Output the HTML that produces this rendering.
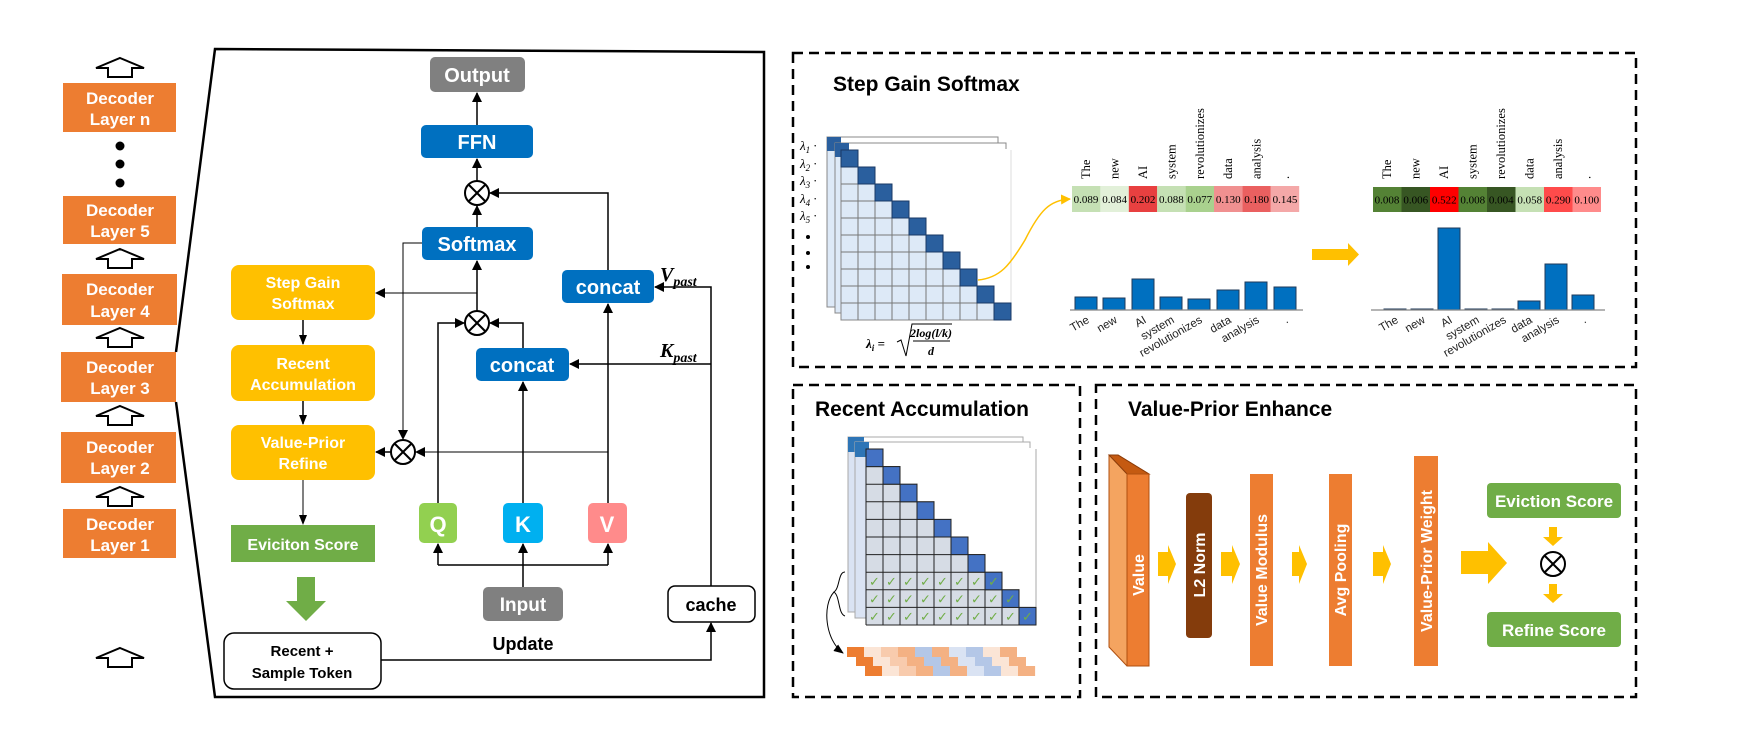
<!DOCTYPE html>
<html><head><meta charset="utf-8"><style>
html,body{margin:0;padding:0;background:#fff;}
svg{display:block;}
.b{font-family:"Liberation Sans",sans-serif;font-weight:bold;}
.s{font-family:"Liberation Serif",serif;}
</style></head><body>
<svg width="1744" height="738" viewBox="0 0 1744 738" xmlns="http://www.w3.org/2000/svg">
<defs>
<marker id="ah" markerWidth="10" markerHeight="10" refX="9" refY="5" orient="auto" markerUnits="userSpaceOnUse"><path d="M0,0 L10,5 L0,10 z" fill="#000"/></marker>
<marker id="ahs" markerWidth="10" markerHeight="8" refX="9" refY="4" orient="auto" markerUnits="userSpaceOnUse"><path d="M0,0 L10,4 L0,8 z" fill="#000"/></marker>
<marker id="aho" markerWidth="10" markerHeight="10" refX="9" refY="5" orient="auto" markerUnits="userSpaceOnUse"><path d="M0,0 L10,5 L0,10 z" fill="#ffc000"/></marker>
<g id="ua"><polygon points="0,-10 24,0 12,0 12,9 -12,9 -12,0 -24,0" fill="#fff" stroke="#000" stroke-width="2"/></g>
<g id="ot"><circle r="12" fill="#fff" stroke="#000" stroke-width="2"/><line x1="-8.5" y1="-8.5" x2="8.5" y2="8.5" stroke="#000" stroke-width="2"/><line x1="-8.5" y1="8.5" x2="8.5" y2="-8.5" stroke="#000" stroke-width="2"/></g>
</defs>

<g class="b" fill="#fff" font-size="17" text-anchor="middle">
<rect x="63" y="83" width="113" height="49" fill="#ed7d31"/><text x="120" y="104">Decoder</text><text x="120" y="125">Layer n</text>
<rect x="63" y="196" width="113" height="48" fill="#ed7d31"/><text x="120" y="216">Decoder</text><text x="120" y="237">Layer 5</text>
<rect x="62" y="274" width="115" height="51" fill="#ed7d31"/><text x="120" y="295">Decoder</text><text x="120" y="317">Layer 4</text>
<rect x="61" y="352" width="115" height="50" fill="#ed7d31"/><text x="120" y="373">Decoder</text><text x="120" y="394">Layer 3</text>
<rect x="61" y="432" width="115" height="51" fill="#ed7d31"/><text x="120" y="453">Decoder</text><text x="120" y="474">Layer 2</text>
<rect x="63" y="509" width="113" height="49" fill="#ed7d31"/><text x="120" y="530">Decoder</text><text x="120" y="551">Layer 1</text>
</g>
<circle cx="120" cy="146" r="4.5"/><circle cx="120" cy="164" r="4.5"/><circle cx="120" cy="183" r="4.5"/>
<use href="#ua" x="120" y="68"/><use href="#ua" x="120" y="259"/><use href="#ua" x="120" y="338"/><use href="#ua" x="120" y="416"/><use href="#ua" x="120" y="497"/><use href="#ua" x="120" y="658"/>

<path d="M176,352 L215,49 L764,52 L764,697 L215,697 L176,402" fill="none" stroke="#000" stroke-width="2.5"/>

<g class="b" fill="#fff" text-anchor="middle">
<rect x="430" y="57" width="95" height="35" rx="5" fill="#808080"/><text x="477" y="82" font-size="20">Output</text>
<rect x="421" y="125" width="112" height="33" rx="5" fill="#0070c0"/><text x="477" y="149" font-size="20">FFN</text>
<rect x="422" y="227" width="111" height="33" rx="5" fill="#0070c0"/><text x="477" y="251" font-size="20">Softmax</text>
<rect x="562" y="270" width="92" height="33" rx="5" fill="#0070c0"/><text x="608" y="294" font-size="20">concat</text>
<rect x="476" y="348" width="93" height="33" rx="5" fill="#0070c0"/><text x="522" y="372" font-size="20">concat</text>
<rect x="231" y="265" width="144" height="55" rx="8" fill="#ffc000"/><text x="303" y="288" font-size="16">Step Gain</text><text x="303" y="309" font-size="16">Softmax</text>
<rect x="231" y="345" width="144" height="56" rx="8" fill="#ffc000"/><text x="303" y="369" font-size="16">Recent</text><text x="303" y="390" font-size="16">Accumulation</text>
<rect x="231" y="425" width="144" height="55" rx="8" fill="#ffc000"/><text x="303" y="448" font-size="16">Value-Prior</text><text x="303" y="469" font-size="16">Refine</text>
<rect x="231" y="525" width="144" height="37" fill="#70ad47"/><text x="303" y="550" font-size="16">Eviciton Score</text>
<rect x="419" y="503" width="38" height="40" rx="5" fill="#92d050"/><text x="438" y="532" font-size="22">Q</text>
<rect x="503" y="503" width="40" height="40" rx="5" fill="#00b0f0"/><text x="523" y="532" font-size="22">K</text>
<rect x="588" y="503" width="39" height="40" rx="5" fill="#ff8b8b"/><text x="607" y="532" font-size="22">V</text>
<rect x="483" y="587" width="80" height="34" rx="5" fill="#808080"/><text x="523" y="611" font-size="19">Input</text>
</g>
<polygon points="297,577 315,577 315,601 326,601 306,621 286,601 297,601" fill="#70ad47"/>
<rect x="668" y="586" width="87" height="36" rx="7" fill="#fff" stroke="#000" stroke-width="1.5"/>
<text x="711" y="611" class="b" font-size="18" text-anchor="middle">cache</text>
<rect x="224" y="633" width="157" height="56" rx="10" fill="#fff" stroke="#000" stroke-width="1.5"/>
<text x="302" y="656" class="b" font-size="15" text-anchor="middle">Recent +</text>
<text x="302" y="678" class="b" font-size="15" text-anchor="middle">Sample Token</text>
<text x="523" y="650" class="b" font-size="18" text-anchor="middle">Update</text>

<use href="#ot" x="477" y="193"/><use href="#ot" x="477" y="323"/><use href="#ot" x="403" y="452"/>

<g stroke="#000" stroke-width="1.5" fill="none">
<line x1="477" y1="125" x2="477" y2="93" marker-end="url(#ah)"/>
<line x1="477" y1="181" x2="477" y2="159" marker-end="url(#ah)"/>
<line x1="477" y1="227" x2="477" y2="206" marker-end="url(#ah)"/>
<polyline points="608,270 608,193 490,193" marker-end="url(#ah)"/>
<line x1="477" y1="311" x2="477" y2="261" marker-end="url(#ah)"/>
<line x1="477" y1="293" x2="376" y2="293" stroke-width="1" marker-end="url(#ah)"/>
<polyline points="422,243 403,243 403,439" stroke-width="1" marker-end="url(#ah)"/>
<polyline points="438,503 438,323 464,323" marker-end="url(#ah)"/>
<polyline points="523,348 523,323 490,323" marker-end="url(#ah)"/>
<line x1="523" y1="503" x2="523" y2="382" marker-end="url(#ah)"/>
<line x1="608" y1="503" x2="608" y2="304" marker-end="url(#ah)"/>
<line x1="608" y1="452" x2="416" y2="452" stroke-width="1" marker-end="url(#ah)"/>
<line x1="391" y1="452" x2="376" y2="452" marker-end="url(#ah)"/>
<line x1="303" y1="320" x2="303" y2="344" marker-end="url(#ahs)"/>
<line x1="303" y1="401" x2="303" y2="424" marker-end="url(#ahs)"/>
<line x1="303" y1="480" x2="303" y2="524" stroke-width="1" marker-end="url(#ahs)"/>
<line x1="523" y1="587" x2="523" y2="544" marker-end="url(#ah)"/>
<polyline points="438,565 608,565"/>
<line x1="438" y1="565" x2="438" y2="544" marker-end="url(#ah)"/>
<line x1="608" y1="565" x2="608" y2="544" marker-end="url(#ah)"/>
<polyline points="381,660 711,660 711,623" marker-end="url(#ah)"/>
<polyline points="711,586 711,287 655,287" marker-end="url(#ah)"/>
<line x1="711" y1="364" x2="570" y2="364" marker-end="url(#ah)"/>
</g>
<text x="660" y="281" class="s" font-weight="bold" font-style="italic" font-size="20">V<tspan font-size="14" dy="5">past</tspan></text>
<text x="660" y="357" class="s" font-weight="bold" font-style="italic" font-size="20">K<tspan font-size="14" dy="5">past</tspan></text>

<g fill="none" stroke="#000" stroke-width="2.5" stroke-dasharray="10 6">
<rect x="793" y="53" width="843" height="314"/>
<rect x="793" y="385" width="287" height="312"/>
<rect x="1096" y="385" width="540" height="312"/>
</g>
<text x="833" y="91" class="b" font-size="21">Step Gain Softmax</text>
<text x="815" y="416" class="b" font-size="21">Recent Accumulation</text>
<text x="1128" y="416" class="b" font-size="21">Value-Prior Enhance</text>

<g stroke="#888" stroke-width="1">
<rect x="827" y="137" width="171" height="170" fill="#fff"/>
<rect x="827" y="137" width="8" height="170" fill="#dde9f7"/>
<rect x="827" y="137" width="14" height="14" fill="#2a5f9e" stroke="none"/>
<rect x="835" y="143" width="171" height="170" fill="#fff"/>
<rect x="835" y="143" width="6" height="170" fill="#dde9f7"/>
<rect x="835" y="143" width="14" height="14" fill="#2a5f9e" stroke="none"/>
<rect x="841" y="150" width="170" height="170" fill="#dde9f7"/>
</g>
<g stroke="#777" stroke-width="1">
<line x1="858" y1="150" x2="858" y2="320"/><line x1="875" y1="150" x2="875" y2="320"/><line x1="892" y1="150" x2="892" y2="320"/><line x1="909" y1="150" x2="909" y2="320"/><line x1="926" y1="150" x2="926" y2="320"/><line x1="943" y1="150" x2="943" y2="320"/><line x1="960" y1="150" x2="960" y2="320"/><line x1="977" y1="150" x2="977" y2="320"/><line x1="994" y1="150" x2="994" y2="320"/>
<line x1="841" y1="167" x2="1011" y2="167"/><line x1="841" y1="184" x2="1011" y2="184"/><line x1="841" y1="201" x2="1011" y2="201"/><line x1="841" y1="218" x2="1011" y2="218"/><line x1="841" y1="235" x2="1011" y2="235"/><line x1="841" y1="252" x2="1011" y2="252"/><line x1="841" y1="269" x2="1011" y2="269"/><line x1="841" y1="286" x2="1011" y2="286"/><line x1="841" y1="303" x2="1011" y2="303"/>
</g>
<polygon points="858,149 1012,149 1012,303 994,303 994,286 977,286 977,269 960,269 960,252 943,252 943,235 926,235 926,218 909,218 909,201 892,201 892,184 875,184 875,167 858,167" fill="#fff"/>
<line x1="1011" y1="150" x2="1011" y2="320" stroke="#ddd"/>
<g fill="#2a5f9e" stroke="#1a3a66" stroke-width="1">
<rect x="841" y="150" width="17" height="17"/><rect x="858" y="167" width="17" height="17"/><rect x="875" y="184" width="17" height="17"/><rect x="892" y="201" width="17" height="17"/><rect x="909" y="218" width="17" height="17"/><rect x="926" y="235" width="17" height="17"/><rect x="943" y="252" width="17" height="17"/><rect x="960" y="269" width="17" height="17"/><rect x="977" y="286" width="17" height="17"/><rect x="994" y="303" width="17" height="17"/>
</g>
<g class="s" font-style="italic" font-size="13">
<text x="800" y="150">λ<tspan font-size="9" dy="3">1</tspan><tspan dy="-3"> ·</tspan></text>
<text x="800" y="168">λ<tspan font-size="9" dy="3">2</tspan><tspan dy="-3"> ·</tspan></text>
<text x="800" y="185">λ<tspan font-size="9" dy="3">3</tspan><tspan dy="-3"> ·</tspan></text>
<text x="800" y="203">λ<tspan font-size="9" dy="3">4</tspan><tspan dy="-3"> ·</tspan></text>
<text x="800" y="220">λ<tspan font-size="9" dy="3">5</tspan><tspan dy="-3"> ·</tspan></text>
</g>
<circle cx="808" cy="237" r="2"/><circle cx="808" cy="253" r="2"/><circle cx="808" cy="267" r="2"/>
<text x="866" y="348" class="s" font-weight="bold" font-style="italic" font-size="13">λ<tspan font-size="9" dy="3">i</tspan><tspan dy="-3"> =</tspan></text>
<path d="M897,342 L901,340 L906,356 L912,324 L952,324" fill="none" stroke="#000" stroke-width="1"/>
<text x="931" y="337" class="s" font-weight="bold" font-style="italic" font-size="12" text-anchor="middle">2log(l/k)</text>
<line x1="913" y1="341" x2="950" y2="341" stroke="#000"/>
<text x="931" y="355" class="s" font-weight="bold" font-style="italic" font-size="12" text-anchor="middle">d</text>
<path d="M978,280 C1000,278 1010,265 1025,240 C1040,210 1050,200 1070,199" fill="none" stroke="#ffc000" stroke-width="1.5" marker-end="url(#aho)"/>

<g class="s" font-size="11" text-anchor="middle">
<rect x="1072" y="186" width="28.4" height="26" fill="#c5e0b4"/><rect x="1100.4" y="186" width="28.4" height="26" fill="#e2f0d9"/><rect x="1128.8" y="186" width="28.4" height="26" fill="#e84040"/><rect x="1157.2" y="186" width="28.4" height="26" fill="#c5e0b4"/><rect x="1185.6" y="186" width="28.4" height="26" fill="#a9d18e"/><rect x="1214" y="186" width="28.4" height="26" fill="#f09090"/><rect x="1242.4" y="186" width="28.4" height="26" fill="#ea6060"/><rect x="1270.8" y="186" width="28.4" height="26" fill="#f4a8a8"/>
<text x="1086" y="203">0.089</text><text x="1114.6" y="203">0.084</text><text x="1143" y="203">0.202</text><text x="1171.4" y="203">0.088</text><text x="1199.8" y="203">0.077</text><text x="1228.2" y="203">0.130</text><text x="1256.6" y="203">0.180</text><text x="1285" y="203">0.145</text>
<rect x="1373" y="187" width="28.5" height="25" fill="#548235"/><rect x="1401.5" y="187" width="28.5" height="25" fill="#375623"/><rect x="1430" y="187" width="28.5" height="25" fill="#ff0000"/><rect x="1458.5" y="187" width="28.5" height="25" fill="#548235"/><rect x="1487" y="187" width="28.5" height="25" fill="#375623"/><rect x="1515.5" y="187" width="28.5" height="25" fill="#c5e0b4"/><rect x="1544" y="187" width="28.5" height="25" fill="#ff4b4b"/><rect x="1572.5" y="187" width="28.5" height="25" fill="#ff8b8b"/>
<text x="1387" y="203.5">0.008</text><text x="1415.7" y="203.5">0.006</text><text x="1444.2" y="203.5">0.522</text><text x="1472.7" y="203.5">0.008</text><text x="1501.2" y="203.5">0.004</text><text x="1529.7" y="203.5">0.058</text><text x="1558.2" y="203.5">0.290</text><text x="1586.7" y="203.5">0.100</text>
</g>
<g class="s" font-size="12.5">
<text transform="translate(1090,179) rotate(-90)">The</text><text transform="translate(1118.6,179) rotate(-90)">new</text><text transform="translate(1147,179) rotate(-90)">AI</text><text transform="translate(1175.4,179) rotate(-90)">system</text><text transform="translate(1203.8,179) rotate(-90)">revolutionizes</text><text transform="translate(1232.2,179) rotate(-90)">data</text><text transform="translate(1260.6,179) rotate(-90)">analysis</text><text transform="translate(1289,179) rotate(-90)">.</text>
<text transform="translate(1391,179) rotate(-90)">The</text><text transform="translate(1419.7,179) rotate(-90)">new</text><text transform="translate(1448.2,179) rotate(-90)">AI</text><text transform="translate(1476.7,179) rotate(-90)">system</text><text transform="translate(1505.2,179) rotate(-90)">revolutionizes</text><text transform="translate(1533.7,179) rotate(-90)">data</text><text transform="translate(1562.2,179) rotate(-90)">analysis</text><text transform="translate(1590.7,179) rotate(-90)">.</text>
</g>
<g fill="#0070c0" stroke="#1f3a5a" stroke-width="1">
<rect x="1075" y="297" width="22" height="13"/><rect x="1103" y="298" width="22" height="12"/><rect x="1132" y="279" width="22" height="31"/><rect x="1160" y="297" width="22" height="13"/><rect x="1188" y="299" width="22" height="11"/><rect x="1217" y="290" width="22" height="20"/><rect x="1245" y="282" width="22" height="28"/><rect x="1274" y="287" width="22" height="23"/>
<rect x="1384" y="309" width="22" height="1"/><rect x="1411" y="309" width="22" height="1"/><rect x="1438" y="228" width="22" height="82"/><rect x="1465" y="309" width="22" height="1"/><rect x="1492" y="309" width="22" height="1"/><rect x="1518" y="301" width="22" height="9"/><rect x="1545" y="264" width="22" height="46"/><rect x="1572" y="295" width="22" height="15"/>
</g>
<line x1="1070" y1="310" x2="1303" y2="310" stroke="#888" stroke-width="1.2"/>
<line x1="1371" y1="310" x2="1605" y2="310" stroke="#888" stroke-width="1.2"/>
<g font-family="Liberation Sans,sans-serif" font-size="11.5" text-anchor="end" fill="#222">
<text transform="translate(1090,322) rotate(-30)">The</text><text transform="translate(1118,322) rotate(-30)">new</text><text transform="translate(1147,322) rotate(-30)">AI</text><text transform="translate(1175,322) rotate(-30)">system</text><text transform="translate(1203,322) rotate(-30)">revolutionizes</text><text transform="translate(1232,322) rotate(-30)">data</text><text transform="translate(1260,322) rotate(-30)">analysis</text><text transform="translate(1289,322) rotate(-30)">.</text>
<text transform="translate(1399,322) rotate(-30)">The</text><text transform="translate(1426,322) rotate(-30)">new</text><text transform="translate(1453,322) rotate(-30)">AI</text><text transform="translate(1480,322) rotate(-30)">system</text><text transform="translate(1507,322) rotate(-30)">revolutionizes</text><text transform="translate(1533,322) rotate(-30)">data</text><text transform="translate(1560,322) rotate(-30)">analysis</text><text transform="translate(1587,322) rotate(-30)">.</text>
</g>
<polygon points="1312,249 1348,249 1348,243 1359,254.5 1348,266 1348,260 1312,260" fill="#ffc000"/>

<g stroke="#aaa" stroke-width="1">
<rect x="848" y="437" width="175" height="175" fill="#fff"/>
<rect x="848" y="437" width="7" height="175" fill="#dae3f3"/>
<rect x="848" y="437" width="16" height="15" fill="#2e75b6" stroke="none"/>
<rect x="855" y="442" width="175" height="176" fill="#fff"/>
<rect x="855" y="442" width="11" height="176" fill="#dae3f3"/>
<rect x="855" y="442" width="14" height="15" fill="#2e75b6" stroke="none"/>
</g>
<rect x="866" y="449" width="170" height="176" fill="#d6dce5"/>
<g stroke="#222" stroke-width="1">
<line x1="883" y1="449" x2="883" y2="625"/><line x1="900" y1="449" x2="900" y2="625"/><line x1="917" y1="449" x2="917" y2="625"/><line x1="934" y1="449" x2="934" y2="625"/><line x1="951" y1="449" x2="951" y2="625"/><line x1="968" y1="449" x2="968" y2="625"/><line x1="985" y1="449" x2="985" y2="625"/><line x1="1002" y1="449" x2="1002" y2="625"/><line x1="1019" y1="449" x2="1019" y2="625"/>
<line x1="866" y1="466.6" x2="1036" y2="466.6"/><line x1="866" y1="484.2" x2="1036" y2="484.2"/><line x1="866" y1="501.8" x2="1036" y2="501.8"/><line x1="866" y1="519.4" x2="1036" y2="519.4"/><line x1="866" y1="537" x2="1036" y2="537"/><line x1="866" y1="554.6" x2="1036" y2="554.6"/><line x1="866" y1="572.2" x2="1036" y2="572.2"/><line x1="866" y1="589.8" x2="1036" y2="589.8"/><line x1="866" y1="607.4" x2="1036" y2="607.4"/>
<line x1="866" y1="449" x2="866" y2="625"/><line x1="866" y1="625" x2="1036" y2="625"/>
</g>
<polygon points="883.5,448 1037,448 1037,606.9 1019.5,606.9 1019.5,589.3 1002.5,589.3 1002.5,571.7 985.5,571.7 985.5,554.1 968.5,554.1 968.5,536.5 951.5,536.5 951.5,518.9 934.5,518.9 934.5,501.3 917.5,501.3 917.5,483.7 900.5,483.7 900.5,466.1 883.5,466.1" fill="#fff"/>
<line x1="1036" y1="449" x2="1036" y2="607" stroke="#aaa"/>
<g fill="#4472c4" stroke="#222" stroke-width="1">
<rect x="866" y="449" width="17" height="17.6"/><rect x="883" y="466.6" width="17" height="17.6"/><rect x="900" y="484.2" width="17" height="17.6"/><rect x="917" y="501.8" width="17" height="17.6"/><rect x="934" y="519.4" width="17" height="17.6"/><rect x="951" y="537" width="17" height="17.6"/><rect x="968" y="554.6" width="17" height="17.6"/><rect x="985" y="572.2" width="17" height="17.6"/><rect x="1002" y="589.8" width="17" height="17.6"/><rect x="1019" y="607.4" width="17" height="17.6"/>
</g>
<g fill="#70ad47" font-family="DejaVu Sans,sans-serif" font-size="13" text-anchor="middle">
<text x="874.5 891.5 908.5 925.5 942.5 959.5 976.5 993.5" y="586">✓✓✓✓✓✓✓✓</text>
<text x="874.5 891.5 908.5 925.5 942.5 959.5 976.5 993.5 1010.5" y="603.5">✓✓✓✓✓✓✓✓✓</text>
<text x="874.5 891.5 908.5 925.5 942.5 959.5 976.5 993.5 1010.5 1027.5" y="621">✓✓✓✓✓✓✓✓✓✓</text>
</g>
<path d="M845,572 C838,572 840,588 834,592 C840,596 838,614 845,616" fill="none" stroke="#000" stroke-width="1"/>
<path d="M834,592 C822,605 825,640 843,653" fill="none" stroke="#000" stroke-width="1" marker-end="url(#ahs)"/>
<g>
<rect x="847" y="647" width="17" height="10" fill="#ed7d31"/><rect x="864" y="647" width="17" height="10" fill="#fbe5d6"/><rect x="881" y="647" width="17" height="10" fill="#f8cbad"/><rect x="898" y="647" width="17" height="10" fill="#f4b183"/><rect x="915" y="647" width="17" height="10" fill="#b4c7e7"/><rect x="932" y="647" width="17" height="10" fill="#f4b183"/><rect x="949" y="647" width="17" height="10" fill="#dae3f3"/><rect x="966" y="647" width="17" height="10" fill="#b4c7e7"/><rect x="983" y="647" width="17" height="10" fill="#fbe5d6"/><rect x="1000" y="647" width="17" height="10" fill="#f4b183"/>
<rect x="856" y="657" width="17" height="9" fill="#ed7d31"/><rect x="873" y="657" width="17" height="9" fill="#fbe5d6"/><rect x="890" y="657" width="17" height="9" fill="#f8cbad"/><rect x="907" y="657" width="17" height="9" fill="#f4b183"/><rect x="924" y="657" width="17" height="9" fill="#b4c7e7"/><rect x="941" y="657" width="17" height="9" fill="#f4b183"/><rect x="958" y="657" width="17" height="9" fill="#dae3f3"/><rect x="975" y="657" width="17" height="9" fill="#b4c7e7"/><rect x="992" y="657" width="17" height="9" fill="#fbe5d6"/><rect x="1009" y="657" width="17" height="9" fill="#f4b183"/>
<rect x="865" y="666" width="17.1" height="10" fill="#ed7d31"/><rect x="882" y="666" width="17.1" height="10" fill="#fbe5d6"/><rect x="899" y="666" width="17.1" height="10" fill="#f8cbad"/><rect x="916" y="666" width="17.1" height="10" fill="#f4b183"/><rect x="933" y="666" width="17.1" height="10" fill="#b4c7e7"/><rect x="950" y="666" width="17.1" height="10" fill="#f4b183"/><rect x="967" y="666" width="17.1" height="10" fill="#dae3f3"/><rect x="984" y="666" width="17.1" height="10" fill="#b4c7e7"/><rect x="1001" y="666" width="17.1" height="10" fill="#fbe5d6"/><rect x="1018" y="666" width="17.1" height="10" fill="#f4b183"/>
</g>

<polygon points="1109,455 1118,455 1149,474 1149,666 1127,666 1109,647" fill="#f4a460" stroke="#b05010" stroke-width="1"/>
<polygon points="1109,455 1118,455 1149,474 1127,474" fill="#c55a11" stroke="#8a3c0a" stroke-width="1"/>
<rect x="1127" y="474" width="22" height="192" fill="#ed7d31" stroke="#b05010" stroke-width="1"/>
<rect x="1186" y="493" width="26" height="145" rx="4" fill="#843c0c"/>
<rect x="1250" y="474" width="23" height="192" fill="#ed7d31"/>
<rect x="1329" y="474" width="23" height="192" fill="#ed7d31"/>
<rect x="1414" y="456" width="24" height="210" fill="#ed7d31"/>
<g class="b" fill="#fff" font-size="16" text-anchor="middle">
<text transform="translate(1144,575) rotate(-90)">Value</text>
<text transform="translate(1205,565) rotate(-90)">L2 Norm</text>
<text transform="translate(1267,570) rotate(-90)">Value Modulus</text>
<text transform="translate(1346,570) rotate(-90)">Avg Pooling</text>
<text transform="translate(1432,561) rotate(-90)">Value-Prior Weight</text>
</g>
<g fill="#ffc000">
<polygon points="1158,552 1168,552 1168,545 1176,564 1168,584 1168,576 1158,576"/>
<polygon points="1221,552 1232,552 1232,545 1240,564 1232,584 1232,576 1221,576"/>
<polygon points="1292,552 1299,552 1299,545 1307,564 1299,584 1299,576 1292,576"/>
<polygon points="1373,552 1383,552 1383,545 1391,564 1383,584 1383,576 1373,576"/>
<polygon points="1461,551 1488,551 1488,542 1507,563 1488,584 1488,574 1461,574"/>
<polygon points="1549,527 1557,527 1557,537 1563,537 1553,546 1543,537 1549,537"/>
<polygon points="1549,584 1557,584 1557,594 1563,594 1553,603 1543,594 1549,594"/>
</g>
<rect x="1487" y="483" width="134" height="35" rx="4" fill="#70ad47"/>
<rect x="1487" y="612" width="134" height="35" rx="4" fill="#70ad47"/>
<text x="1554" y="507" class="b" fill="#fff" font-size="17" text-anchor="middle">Eviction Score</text>
<text x="1554" y="636" class="b" fill="#fff" font-size="17" text-anchor="middle">Refine Score</text>
<use href="#ot" x="1553" y="564"/>
</svg>
</body></html>
